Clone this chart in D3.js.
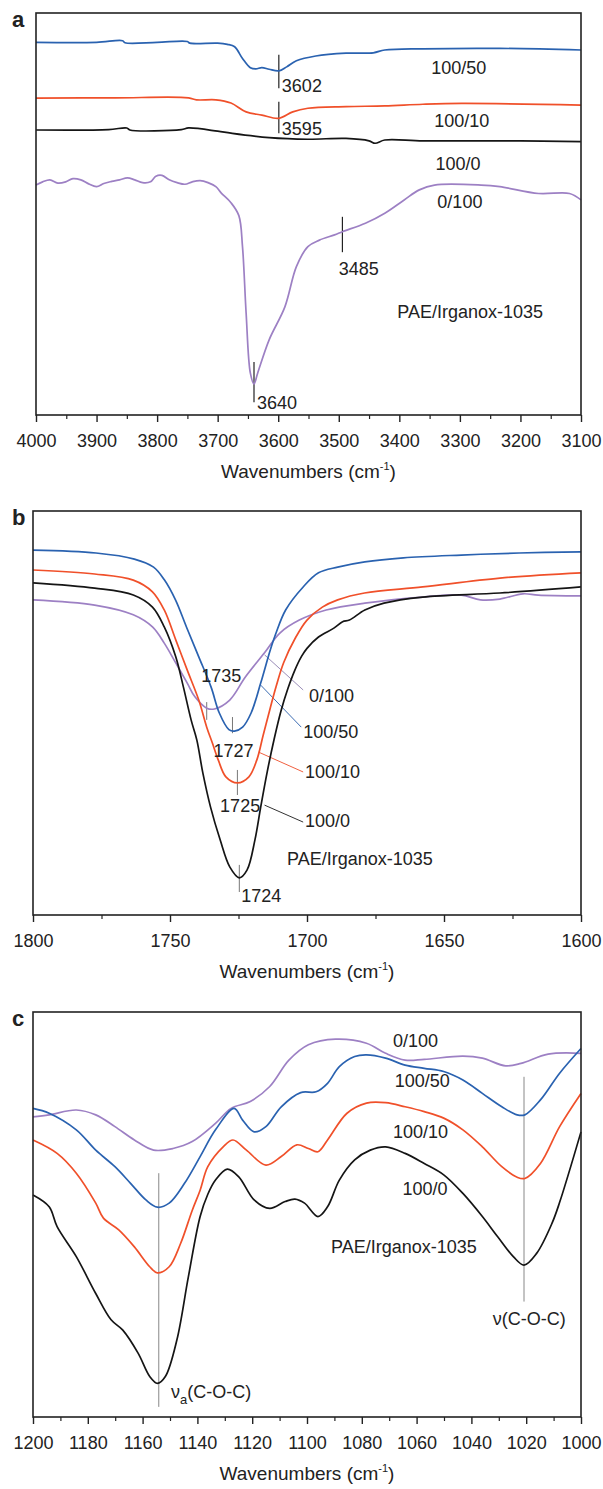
<!DOCTYPE html>
<html>
<head>
<meta charset="utf-8">
<script src="https://cdn.jsdelivr.net/npm/d3@7/dist/d3.min.js"></script>
<style>
  body { margin: 0; background: #fff; }
  text { font-family: "Liberation Sans", Arial, sans-serif; fill: #222; }
</style>
</head>
<body>
<div id="viz"></div>
<script>
// ---- panel a : 4000-3100 cm-1 (wavenumber, relative transmittance)
var a_100_50 = [[4000,92.7],[3900,92.7],[3857,93.1],[3853,92.6],[3800,92.7],[3750,92.9],[3746,92.5],[3700,92.5],[3684,92.2],[3672,91.6],[3659,88.7],[3646,86.4],[3637,86.1],[3627,86.4],[3615,86.0],[3599,85.6],[3586,86.6],[3570,88.1],[3538,89.3],[3488,90.0],[3443,90.1],[3424,90.8],[3361,91.1],[3234,91.2],[3100,90.8]];
var a_100_10 = [[4000,78.8],[3869,78.9],[3748,78.9],[3735,78.4],[3703,78.4],[3678,77.6],[3653,75.4],[3627,74.6],[3599,73.8],[3576,75.4],[3551,76.3],[3488,76.7],[3424,76.9],[3361,77.3],[3297,77.5],[3100,77.1]];
var a_100_0 = [[4000,70.9],[3880,71.0],[3850,71.4],[3845,70.9],[3760,71.0],[3748,71.4],[3700,70.6],[3678,70.1],[3615,69.0],[3551,68.6],[3488,68.8],[3450,68.2],[3440,67.6],[3424,68.4],[3361,68.2],[3200,68.2],[3100,68.0]];
var a_0_100 = [[4000,57.2],[3989,58.0],[3977,58.5],[3964,57.7],[3951,58.0],[3939,58.8],[3926,58.5],[3913,57.5],[3900,56.8],[3888,57.6],[3875,58.1],[3862,58.5],[3849,59.0],[3837,58.5],[3824,57.8],[3811,58.0],[3802,59.4],[3792,59.6],[3780,58.5],[3767,57.8],[3754,57.4],[3742,58.0],[3729,58.3],[3716,57.8],[3703,56.8],[3694,55.2],[3678,52.8],[3665,49.6],[3659,41.9],[3653,25.3],[3646,10.4],[3640,7.7],[3634,10.4],[3615,18.7],[3589,26.9],[3570,36.9],[3551,41.9],[3532,43.5],[3507,44.8],[3494,45.6],[3456,47.7],[3424,50.2],[3392,53.5],[3367,56.0],[3342,57.2],[3265,57.2],[3234,56.8],[3170,55.1],[3119,55.1],[3100,53.5]];
var a_ticks = [4000,3900,3800,3700,3600,3500,3400,3300,3200,3100];
var a_minor = [3950,3850,3750,3650,3550,3450,3350,3250,3150];
var a_labels = [
  {t:'100/50', wn:3302, v:84.8, anchor:'middle'},
  {t:'100/10', wn:3297, v:71.6, anchor:'middle'},
  {t:'100/0', wn:3303, v:60.9, anchor:'middle'},
  {t:'0/100', wn:3300, v:51.5, anchor:'middle'},
  {t:'PAE/Irganox-1035', wn:3283, v:24.1, anchor:'middle'},
  {t:'3602', wn:3594, v:80.3, anchor:'start'},
  {t:'3595', wn:3594, v:69.7, anchor:'start'},
  {t:'3485', wn:3467, v:34.8, anchor:'middle'},
  {t:'3640', wn:3635, v:1.5, anchor:'start'}
];
var a_marks = [[3599,89.6,81.3],[3599,77.9,70.1],[3494,49.3,40.5],[3640,13.2,3.2]];

// ---- panel b : 1800-1600 cm-1
var b_100_50 = [[1800,90.3],[1777,89.6],[1763,88.1],[1756,86.1],[1752,82.9],[1748,78.0],[1744,71.3],[1739.5,63.9],[1735,56.4],[1732,50.0],[1728.5,45.9],[1726.5,45.5],[1723.5,46.5],[1720.4,50.0],[1716.9,57.4],[1713.4,65.6],[1711.3,69.8],[1707.8,75.5],[1701.4,81.2],[1695.8,84.7],[1688.8,86.1],[1678.9,87.4],[1664.8,88.4],[1643.7,89.1],[1622.6,89.6],[1600,89.9]];
var b_100_10 = [[1800,85.4],[1777.5,84.4],[1763.4,82.9],[1756.4,80.0],[1752.1,75.5],[1747.9,68.1],[1743.7,60.6],[1739.5,53.2],[1736.6,46.5],[1734.5,42.5],[1732.4,38.4],[1729.6,34.2],[1725.4,32.7],[1721.2,34.2],[1718.3,38.4],[1716,44.5],[1713.5,51.0],[1711.3,56.5],[1708.5,62.5],[1704.3,68.5],[1700,73.0],[1694.4,76.2],[1688.8,78.0],[1679,79.7],[1657.8,81.2],[1629.6,83.4],[1600,84.7]];
var b_100_0 = [[1800,82.2],[1777.5,80.9],[1763.4,79.2],[1756.4,76.2],[1752.1,71.3],[1747.9,63.9],[1745.1,56.4],[1742.3,48.3],[1740.2,43.3],[1738,35.1],[1735.2,26.7],[1731.7,18.6],[1728.2,11.9],[1724.7,9.2],[1721.9,11.1],[1719,18.6],[1716.9,26.7],[1714.5,35.5],[1712,43.5],[1709.5,50.5],[1707,56.0],[1704.5,60.5],[1702,64.0],[1700,66.0],[1695.8,68.8],[1690.2,71.0],[1687,72.6],[1684.5,73.0],[1678.9,75.5],[1671.9,77.2],[1657.8,78.7],[1629.6,79.7],[1600,81.2]];
var b_0_100 = [[1800,78.0],[1777.5,76.7],[1763.4,74.3],[1756.4,71.3],[1752.1,67.3],[1747.9,62.4],[1743.7,57.4],[1740.9,54.0],[1736.6,51.2],[1733.8,51.0],[1728.2,53.2],[1722.5,58.9],[1715.5,64.9],[1709.9,69.8],[1702.8,73.0],[1693,75.5],[1678.9,77.2],[1657.8,78.7],[1643.7,79.2],[1636.7,78.0],[1629.6,78.2],[1621.2,79.5],[1615.6,79.2],[1600,79.0]];
var b_ticks = [1800,1750,1700,1650,1600];
var b_minor = [1775,1725,1675,1625];
var b_labels = [
  {t:'1735', wn:1731.3, v:57.7, anchor:'middle'},
  {t:'1727', wn:1726.8, v:39.1, anchor:'middle'},
  {t:'1725', wn:1724.4, v:25.5, anchor:'middle'},
  {t:'1724', wn:1724.0, v:3.2, anchor:'start'},
  {t:'PAE/Irganox-1035', wn:1680.7, v:12.4, anchor:'middle'},
  {t:'0/100', wn:1699.3, v:52.7, anchor:'start'},
  {t:'100/50', wn:1701.4, v:43.8, anchor:'start'},
  {t:'100/10', wn:1700.7, v:33.9, anchor:'start'},
  {t:'100/0', wn:1700.7, v:21.8, anchor:'start'}
];
var b_marks = [[1736.6,52.7,48.3],[1727.2,49.0,45.0],[1725.4,35.9,29.7],[1724.7,12.4,5.7]];
var b_leaders = [[1715.5,64.4,1701.4,55.7,'#9a8db8'],[1716.9,56.9,1702.1,46.5,'#3d6db3'],[1717.6,40.3,1701.4,35.4,'#f06040'],[1715.5,27.2,1701.4,23.0,'#333']];

// ---- panel c : 1200-1000 cm-1
var c_100_50 = [[1200,76.2],[1194.1,75.0],[1184.2,70.9],[1177.1,65.9],[1170.1,61.8],[1164.4,57.7],[1158.8,53.6],[1154.6,51.8],[1150.3,52.8],[1144.7,57.7],[1139,64.3],[1133.4,70.9],[1126.6,76.2],[1123.5,73.3],[1119.3,70.4],[1115,71.7],[1109.4,76.6],[1102.3,80.1],[1096.7,80.3],[1092.5,82.4],[1088.2,86.5],[1082.6,89.0],[1078.3,89.4],[1071.3,88.6],[1064.2,86.9],[1057.2,86.1],[1050.1,85.3],[1043.1,83.2],[1036,79.9],[1028.9,76.6],[1023.3,74.6],[1020.5,74.6],[1014.8,78.3],[1007.8,84.9],[1000,91.0]];
var c_100_10 = [[1200,68.4],[1191.2,65.1],[1184.2,60.2],[1177.1,52.8],[1174.3,49.1],[1168.7,46.2],[1163,42.0],[1157.4,37.1],[1154.6,35.6],[1150.3,37.1],[1146.1,42.9],[1141.9,51.0],[1139,56.0],[1136.2,61.8],[1130.6,66.7],[1127,68.4],[1122.1,65.9],[1115,62.2],[1109.4,64.3],[1103.7,67.2],[1099.5,66.3],[1096,65.5],[1092.5,68.4],[1085.4,75.0],[1078.3,77.5],[1071.3,77.6],[1064.2,76.6],[1057.2,75.4],[1050.1,73.8],[1043.1,70.9],[1036,66.7],[1028.9,61.8],[1023.3,59.2],[1020.5,58.9],[1014.8,62.6],[1007.8,71.7],[1000,79.9]];
var c_100_0 = [[1200,54.8],[1194.1,51.9],[1191.2,47.0],[1184.2,39.6],[1177.1,30.5],[1171.5,24.0],[1167.3,21.5],[1161.6,15.7],[1157.4,10.0],[1154.6,8.3],[1151.7,10.0],[1147.5,19.0],[1143.3,34.6],[1139,49.5],[1136.2,55.0],[1133.4,58.5],[1129.1,61.2],[1124.9,59.3],[1119.3,53.6],[1113.6,51.5],[1108,53.2],[1104.4,53.8],[1100.9,52.8],[1096,49.5],[1092.5,51.9],[1088.2,58.5],[1082.6,63.5],[1076.9,65.9],[1071.3,66.7],[1064.2,65.1],[1057.2,62.6],[1050.1,59.8],[1043.1,55.2],[1036,49.5],[1030.4,44.5],[1024.7,39.6],[1020.8,37.5],[1016.2,40.4],[1010.6,47.8],[1007.8,53.0],[1000,70.4]];
var c_0_100 = [[1200,74.1],[1194.1,74.6],[1184.2,75.8],[1177.1,74.6],[1170.1,71.7],[1163,68.4],[1156,65.9],[1148.9,66.3],[1141.9,68.0],[1133.4,72.5],[1127.7,76.2],[1120.7,77.9],[1113.6,81.6],[1106.6,88.1],[1099.5,91.9],[1089.6,93.3],[1078.3,92.3],[1071.3,89.8],[1064.2,88.1],[1057.2,88.3],[1043.1,89.1],[1036,88.6],[1027.5,86.7],[1021.9,87.3],[1012,89.6],[1000,89.8]];
var c_ticks = [1200,1180,1160,1140,1120,1100,1080,1060,1040,1020,1000];
var c_minor = [1190,1170,1150,1130,1110,1090,1070,1050,1030,1010];
var c_labels = [
  {t:'0/100', wn:1060.4, v:91.4, anchor:'middle'},
  {t:'100/50', wn:1057.9, v:81.6, anchor:'middle'},
  {t:'100/10', wn:1058.6, v:68.8, anchor:'middle'},
  {t:'100/0', wn:1056.9, v:54.8, anchor:'middle'},
  {t:'PAE/Irganox-1035', wn:1064.6, v:40.4, anchor:'middle'},
  {t:'\u03bd(C-O-C)', wn:1018.9, v:22.7, anchor:'middle'}
];
var c_marks = [[1154.1,60.2,2.5],[1020.8,84.0,28.5]];

var colors = {blend50:'#2a62b0', blend10:'#f0502a', pae:'#151515', irg:'#9d80c4'};

var svg = d3.select('#viz').append('svg')
  .attr('width', 603)
  .attr('height', 1489);

var smooth = d3.curveCatmullRom.alpha(0.5);

var panels = [
  {name:'a', left:36, top:13, bottom:415, domain:[4000,3100], ticks:a_ticks, minor:a_minor,
   series:[[a_0_100,colors.irg],[a_100_0,colors.pae],[a_100_10,colors.blend10],[a_100_50,colors.blend50]],
   labels:a_labels, marks:a_marks, markColor:'#222', leaders:[]},
  {name:'b', left:33, top:511, bottom:915, domain:[1800,1600], ticks:b_ticks, minor:b_minor,
   series:[[b_0_100,colors.irg],[b_100_0,colors.pae],[b_100_10,colors.blend10],[b_100_50,colors.blend50]],
   labels:b_labels, marks:b_marks, markColor:'#777', leaders:b_leaders},
  {name:'c', left:33, top:1012, bottom:1417, domain:[1200,1000], ticks:c_ticks, minor:c_minor,
   series:[[c_0_100,colors.irg],[c_100_0,colors.pae],[c_100_10,colors.blend10],[c_100_50,colors.blend50]],
   labels:c_labels, marks:c_marks, markColor:'#888', leaders:[]}
];

var right = 581;

panels.forEach(function(p) {
  var x = d3.scaleLinear().domain(p.domain).range([p.left, right]);
  var y = d3.scaleLinear().domain([0, 100]).range([p.bottom, p.top]);
  var g = svg.append('g');

  var line = d3.line()
    .x(function(d) { return x(d[0]); })
    .y(function(d) { return y(d[1]); })
    .curve(smooth);

  // marker lines first (thin, behind curves)
  g.selectAll('.mark').data(p.marks).enter().append('line')
    .attr('x1', function(d) { return x(d[0]); })
    .attr('x2', function(d) { return x(d[0]); })
    .attr('y1', function(d) { return y(d[1]); })
    .attr('y2', function(d) { return y(d[2]); })
    .attr('stroke', p.markColor)
    .attr('stroke-width', p.name == 'a' ? 1.2 : 1);

  g.selectAll('.leader').data(p.leaders).enter().append('line')
    .attr('x1', function(d) { return x(d[0]); })
    .attr('y1', function(d) { return y(d[1]); })
    .attr('x2', function(d) { return x(d[2]); })
    .attr('y2', function(d) { return y(d[3]); })
    .attr('stroke', function(d) { return d[4]; })
    .attr('stroke-width', 1);

  p.series.forEach(function(s) {
    g.append('path')
      .datum(s[0])
      .attr('fill', 'none')
      .attr('stroke', s[1])
      .attr('stroke-width', 1.7)
      .attr('stroke-linejoin', 'round')
      .attr('d', line);
  });

  // frame
  g.append('rect')
    .attr('x', p.left).attr('y', p.top)
    .attr('width', right - p.left).attr('height', p.bottom - p.top)
    .attr('fill', 'none')
    .attr('stroke', '#222')
    .attr('stroke-width', 1.6);

  // x axis, major + minor ticks outward
  var major = g.append('g')
    .attr('transform', 'translate(0,' + p.bottom + ')')
    .call(d3.axisBottom(x).tickValues(p.ticks).tickSize(7).tickSizeOuter(0).tickPadding(12).tickFormat(d3.format('d')));
  major.select('.domain').remove();
  major.selectAll('line').attr('stroke', '#222').attr('stroke-width', 1.4);
  major.selectAll('text').style('font-size', '18px').attr('fill', '#222')
    .style('font-family', '"Liberation Sans", Arial, sans-serif');

  var minor = g.append('g')
    .attr('transform', 'translate(0,' + p.bottom + ')')
    .call(d3.axisBottom(x).tickValues(p.minor).tickSize(4).tickFormat(''));
  minor.select('.domain').remove();
  minor.selectAll('line').attr('stroke', '#222').attr('stroke-width', 1.2);

  // axis title
  var title = g.append('text')
    .attr('x', (p.left + right) / 2)
    .attr('y', p.bottom + 63)
    .attr('text-anchor', 'middle')
    .style('font-size', '19px');
  title.append('tspan').text('Wavenumbers (cm');
  title.append('tspan').attr('dy', -8).style('font-size', '11px').text('-1');
  title.append('tspan').attr('dy', 8).text(')');

  // panel letter
  g.append('text')
    .attr('x', 12)
    .attr('y', p.top + 14)
    .style('font-size', '22px')
    .style('font-weight', 'bold')
    .text(p.name);

  // annotations
  g.selectAll('.lab').data(p.labels).enter().append('text')
    .attr('x', function(d) { return x(d.wn); })
    .attr('y', function(d) { return y(d.v); })
    .attr('text-anchor', function(d) { return d.anchor; })
    .style('font-size', '18px')
    .text(function(d) { return d.t; });

  if (p.name == 'c') {
    var nu = g.append('text')
      .attr('x', x(1149.6))
      .attr('y', y(4.6))
      .style('font-size', '18px');
    nu.append('tspan').text('\u03bd');
    nu.append('tspan').attr('dy', 6).style('font-size', '13px').text('a');
    nu.append('tspan').attr('dy', -6).text('(C-O-C)');
  }
});
</script>
</body>
</html>
